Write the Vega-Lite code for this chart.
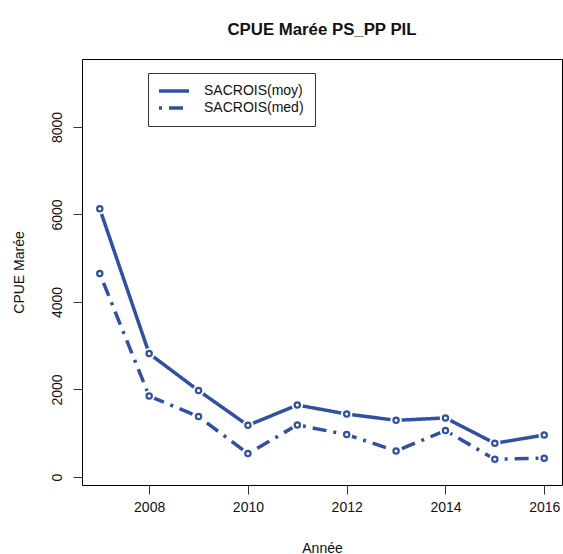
{
  "$schema": "https://vega.github.io/schema/vega-lite/v6.json",
  "width": 480,
  "height": 426,
  "autosize": {"type": "none"},
  "padding": {"left": 82, "top": 59, "right": 1, "bottom": 69},
  "background": "white",
  "config": {
    "font": "Liberation Sans",
    "view": {"stroke": "black", "strokeWidth": 1},
    "axis": {"grid": false, "domain": false, "tickColor": "#333", "tickSize": 9, "labelFont": "Liberation Sans", "titleFont": "Liberation Sans", "labelFontSize": 14, "titleFontSize": 14, "titleFontWeight": "normal", "labelColor": "#111", "titleColor": "#111"}
  },
  "title": {"text": "CPUE Marée PS_PP PIL", "fontSize": 16.8, "fontWeight": "bold", "font": "Liberation Sans", "anchor": "middle", "offset": 20, "color": "#111"},
  "data": {"values": [
    {"annee": 2007, "serie": "SACROIS(moy)", "cpue": 6130},
    {"annee": 2008, "serie": "SACROIS(moy)", "cpue": 2820},
    {"annee": 2009, "serie": "SACROIS(moy)", "cpue": 1975},
    {"annee": 2010, "serie": "SACROIS(moy)", "cpue": 1180},
    {"annee": 2011, "serie": "SACROIS(moy)", "cpue": 1645},
    {"annee": 2012, "serie": "SACROIS(moy)", "cpue": 1440},
    {"annee": 2013, "serie": "SACROIS(moy)", "cpue": 1295},
    {"annee": 2014, "serie": "SACROIS(moy)", "cpue": 1350},
    {"annee": 2015, "serie": "SACROIS(moy)", "cpue": 770},
    {"annee": 2016, "serie": "SACROIS(moy)", "cpue": 960},
    {"annee": 2007, "serie": "SACROIS(med)", "cpue": 4650},
    {"annee": 2008, "serie": "SACROIS(med)", "cpue": 1850},
    {"annee": 2009, "serie": "SACROIS(med)", "cpue": 1380},
    {"annee": 2010, "serie": "SACROIS(med)", "cpue": 535},
    {"annee": 2011, "serie": "SACROIS(med)", "cpue": 1190},
    {"annee": 2012, "serie": "SACROIS(med)", "cpue": 970},
    {"annee": 2013, "serie": "SACROIS(med)", "cpue": 595},
    {"annee": 2014, "serie": "SACROIS(med)", "cpue": 1060},
    {"annee": 2015, "serie": "SACROIS(med)", "cpue": 405},
    {"annee": 2016, "serie": "SACROIS(med)", "cpue": 430}
  ]},
  "encoding": {
    "x": {"field": "annee", "type": "quantitative", "title": "Année",
      "scale": {"domain": [2006.64, 2016.36], "nice": false, "zero": false},
      "axis": {"values": [2008, 2010, 2012, 2014, 2016], "format": "d", "labelPadding": 6, "titlePadding": 27, "labelFlush": false}},
    "y": {"field": "cpue", "type": "quantitative", "title": "CPUE Marée",
      "scale": {"domain": [-183, 9554], "nice": false, "zero": false},
      "axis": {"values": [0, 2000, 4000, 6000, 8000], "format": "d", "labelAngle": -90, "labelPadding": 9, "titlePadding": 24, "labelFlush": false}}
  },
  "layer": [
    {
      "mark": {"type": "line", "strokeWidth": 3.5, "color": "#2F50A3"},
      "encoding": {
        "strokeDash": {"field": "serie", "type": "nominal",
          "scale": {"domain": ["SACROIS(moy)", "SACROIS(med)"], "range": [[1, 0], [3, 7, 14, 7]]},
          "legend": {"title": null, "orient": "none", "legendX": 66, "legendY": 14, "strokeColor": "#333", "padding": 11, "symbolType": "M-3,0H3", "symbolSize": 100, "symbolOffset": 8, "symbolStrokeWidth": 3.5, "symbolStrokeColor": "#2F50A3", "labelFontSize": 14, "labelFont": "Liberation Sans", "labelColor": "#111", "labelOffset": 23, "rowPadding": 3, "fillColor": "white"}
        }
      }
    },
    {
      "mark": {"type": "point", "shape": "circle", "filled": true, "color": "white", "size": 130, "opacity": 1},
      "encoding": {"detail": {"field": "serie"}}
    },
    {
      "mark": {"type": "point", "shape": "circle", "filled": false, "color": "#2F50A3", "strokeWidth": 2.2, "size": 28, "opacity": 1},
      "encoding": {"detail": {"field": "serie"}}
    }
  ]
}
